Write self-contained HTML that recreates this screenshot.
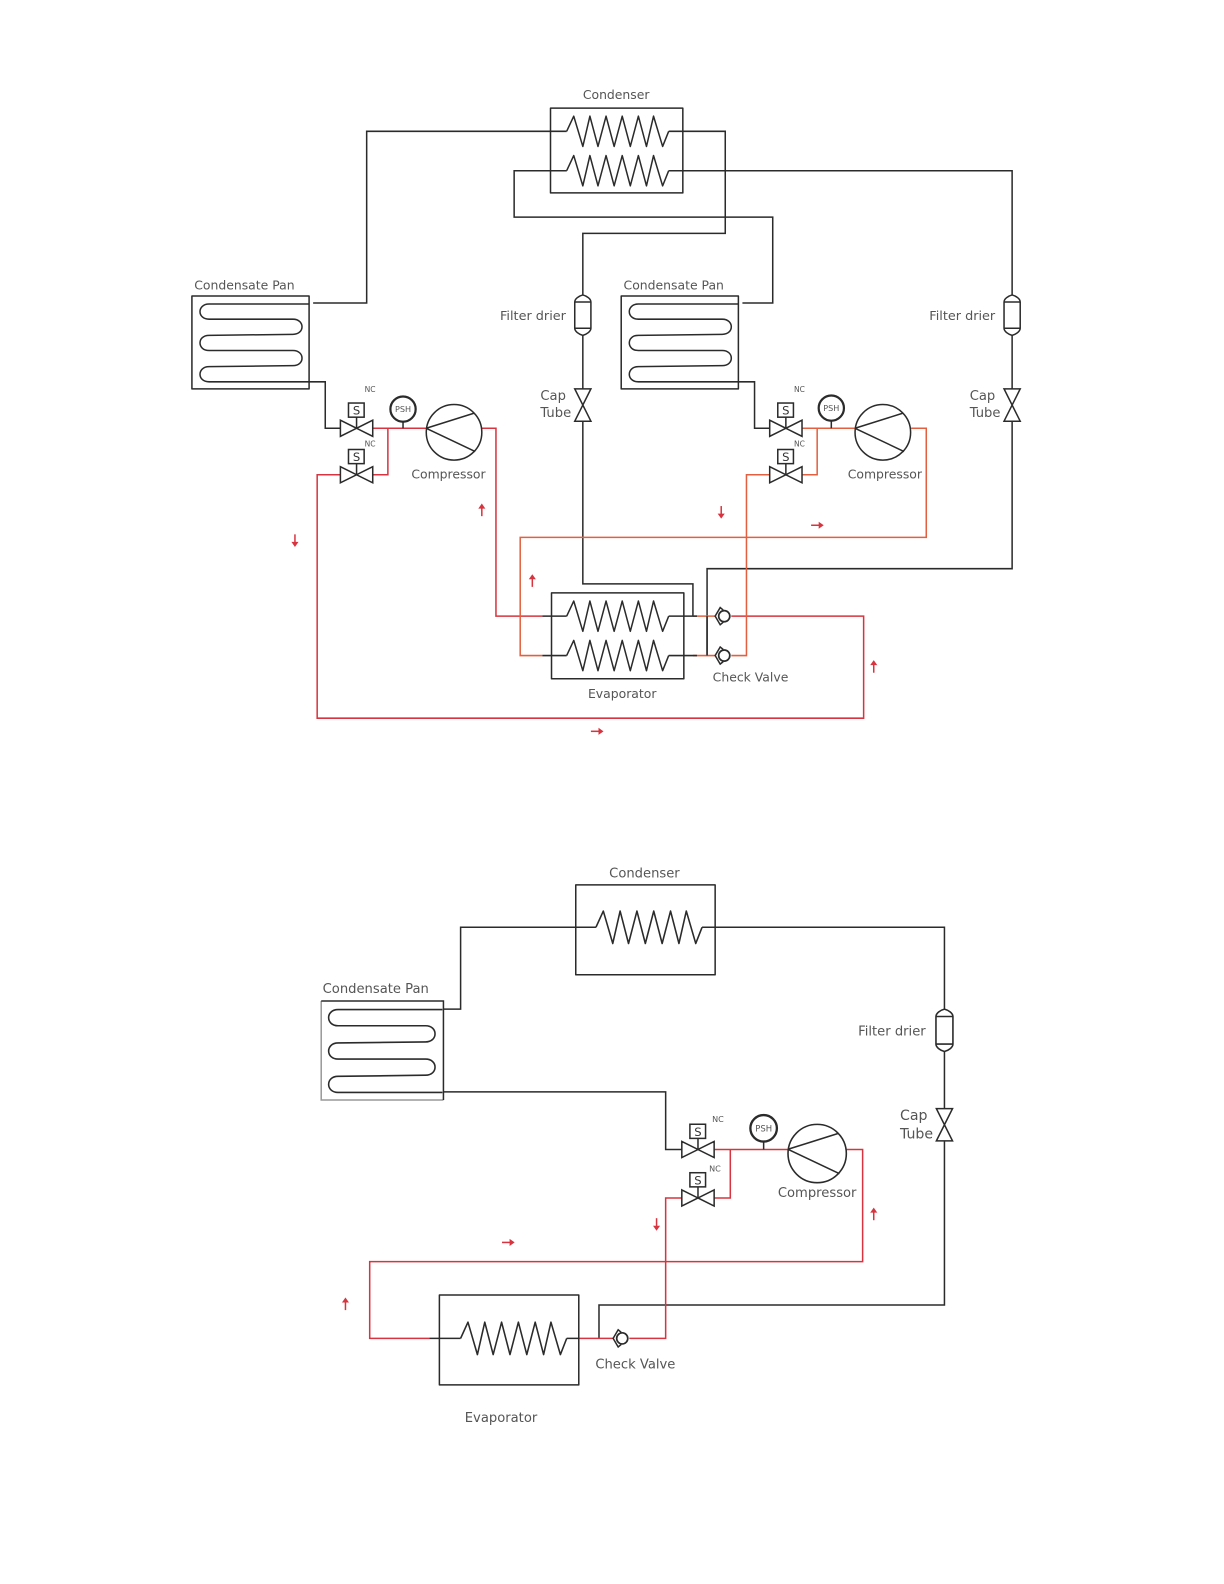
<!DOCTYPE html>
<html><head><meta charset="utf-8"><style>
html,body{margin:0;padding:0;background:#fff}
svg{display:block;filter:blur(.3px)}
text{font-family:"DejaVu Sans","Liberation Sans",sans-serif;fill:#555}
.k{fill:none;stroke:#2b2b2b;stroke-width:1.5}
.r{fill:none;stroke:#d8343f;stroke-width:1.5}
.o{fill:none;stroke:#e2603f;stroke-width:1.5}
.s{fill:none;stroke:#2b2b2b;stroke-width:1.5;stroke-linejoin:round}
.w{fill:#fff;stroke:#2b2b2b;stroke-width:1.5}
</style></head><body>
<svg width="1224" height="1584" viewBox="0 0 1211.760 1568.160" xmlns="http://www.w3.org/2000/svg">
<defs>
<g id="coil"><path class="s" d="M0 0L7-15L16 15L23-15L31 15L39-15L47 15L55-15L63 15L71-15L79 15L86-15L95 15L101 0"/></g>
<path id="serp" class="s" d="M116 8H17C5 8 5 23 17 23H100C112 23 112 38 100 38L17 39C5 39 5 54 17 54H100C112 54 112 69 100 69L17 70C5 70 5 85 17 85H116"/>
<g id="pan"><use href="#serp"/><rect class="s" x="0" y="0" width="116" height="92"/></g>
<g id="valve"><path class="w" d="M-16-8L0 0L-16 8ZM16-8L0 0L16 8Z"/><path class="k" d="M0 0V-11"/><rect class="w" x="-8" y="-25" width="15.500" height="14"/><text x="0" y="-13.500" font-size="11.500" text-anchor="middle" style="fill:#333">S</text></g>
<g id="psh"><circle cx="0" cy="0" r="12.500" fill="#fff" stroke="#2b2b2b" stroke-width="2.200"/><text x="0" y="3" font-size="8" text-anchor="middle">PSH</text></g>
<g id="comp"><circle cx="0" cy="0" r="27.500" fill="#fff" stroke="#2b2b2b" stroke-width="1.500"/><path class="k" d="M-27.500-4L20-19M-27.500-4L21 19"/></g>
<g id="drier"><path class="w" d="M0-20C4-19 8-16 8-13V13C8 16 4 19 0 20C-4 19-8 16-8 13V-13C-8-16-4-19 0-20Z"/><path class="k" d="M-8-13H8M-8 13H8"/></g>
<g id="cap"><path class="w" d="M-8-16H8L-8 16H8Z"/></g>
<g id="check"><path class="k" d="M0-6L-3-8.500L-8 0L-3 8.500L0 6" stroke-width="1.800"/><circle cx="1" cy="0" r="5.500" fill="#fff" stroke="#2b2b2b" stroke-width="1.700"/></g>
<g id="arr"><path d="M0 6V-3" fill="none" stroke="#d8343f" stroke-width="1.500"/><path d="M0-6.500L3.500-1.500H-3.500Z" fill="#d8343f"/></g>
</defs>

<!-- TOP DIAGRAM -->
<path class="k" d="M545 130H363V300H310"/>
<path class="k" d="M662 130H718V231H577V292M577 332V385M577 417V578H686V610"/>
<path class="k" d="M561 169H509V215H765V300H735"/>
<path class="k" d="M662 169H1002V292M1002 332V385M1002 417V563H700V649"/>
<path class="k" d="M731 378H747V424H762M306 378H322V424H337"/>
<rect class="s" x="545" y="107" width="131" height="84"/>
<use href="#coil" x="561" y="130"/><use href="#coil" x="561" y="169"/>
<path class="k" d="M545 130H561M545 169H561"/>
<use href="#pan" x="190" y="293"/><use href="#pan" x="615" y="293"/>

<path class="r" d="M369 424H422M384 424V470H369M337 470H314V711H855V610H724M476 424H491V610H537"/>
<path class="o" d="M794 424H848M809 424V470H794M762 470H739V649H724M902 424H917V532H515V649H537"/>
<path class="o" d="M686 610H708M686 649H708"/>
<path class="k" d="M537 610H561M537 649H561M662 610H690M662 649H690M700 610V649"/>
<rect class="s" x="546" y="587" width="131" height="85"/>
<use href="#coil" x="561" y="610"/><use href="#coil" x="561" y="649"/>
<use href="#check" x="716" y="610"/><use href="#check" x="716" y="649"/>

<use href="#valve" x="353" y="424"/><use href="#valve" x="353" y="470"/>
<use href="#valve" x="778" y="424"/><use href="#valve" x="778" y="470"/>
<path class="k" d="M399 424V417M823 424V417"/>
<use href="#psh" x="399" y="405"/><use href="#psh" x="823" y="404"/>
<use href="#comp" x="449.500" y="428"/><use href="#comp" x="874" y="428"/>
<use href="#drier" x="577" y="312"/><use href="#drier" x="1002" y="312"/>
<use href="#cap" x="577" y="401"/><use href="#cap" x="1002" y="401"/>

<g font-size="12.300">
<text x="610" y="98" text-anchor="middle">Condenser</text>
<text x="242" y="286.500" text-anchor="middle">Condensate Pan</text>
<text x="667" y="286.500" text-anchor="middle">Condensate Pan</text>
<text x="495" y="317" font-size="12.700">Filter drier</text>
<text x="920" y="317" font-size="12.700">Filter drier</text>
<text x="535" y="396" font-size="13">Cap</text><text x="535" y="413" font-size="13">Tube</text>
<text x="960" y="396" font-size="13">Cap</text><text x="960" y="413" font-size="13">Tube</text>
<text x="444" y="473.500" text-anchor="middle">Compressor</text>
<text x="876" y="473.500" text-anchor="middle">Compressor</text>
<text x="616" y="691" text-anchor="middle">Evaporator</text>
<text x="743" y="674.500" text-anchor="middle">Check Valve</text>
</g>
<g font-size="7.500">
<text x="361" y="388">NC</text><text x="361" y="442">NC</text>
<text x="786" y="388">NC</text><text x="786" y="442">NC</text>
</g>
<use href="#arr" transform="translate(292 535) rotate(180)"/>
<use href="#arr" transform="translate(477 505)"/>
<use href="#arr" transform="translate(527 575)"/>
<use href="#arr" transform="translate(714 507) rotate(180)"/>
<use href="#arr" transform="translate(809 520) rotate(90)"/>
<use href="#arr" transform="translate(865 660)"/>
<use href="#arr" transform="translate(591 724) rotate(90)"/>

<!-- BOTTOM DIAGRAM -->
<path class="k" d="M590 918H456V999H439"/>
<path class="k" d="M695 918H935V999M935 1041V1097M935 1130V1292H593V1325"/>
<path class="k" d="M439 1081H659V1138H675"/>
<rect class="s" x="570" y="876" width="138" height="89"/>
<use href="#coil" transform="translate(590 918) scale(1.040 1.070)"/>
<g transform="translate(317 991) scale(1.043 1.065)"><use href="#serp"/></g>
<path d="M318 991V1089H439" fill="none" stroke="#999" stroke-width="1.500"/>
<path class="k" d="M318 991H439V1089"/>

<path class="r" d="M707 1138H780M723 1138V1186H707M675 1186H659V1325H623M838 1138H854V1249H366V1325H425"/>
<path class="r" d="M573 1325H607"/>
<path class="k" d="M425 1325H456M561 1325H573"/>
<rect class="s" x="435" y="1282" width="138" height="89"/>
<use href="#coil" transform="translate(456 1325) scale(1.040 1.070)"/>
<use href="#check" x="615" y="1325"/>
<use href="#valve" x="691" y="1138"/><use href="#valve" x="691" y="1186"/>
<path class="k" d="M756 1138V1130"/>
<use href="#psh" transform="translate(756 1117) scale(1.050)"/>
<use href="#comp" transform="translate(809 1142) scale(1.050)"/>
<use href="#drier" transform="translate(935 1020) scale(1.050)"/>
<use href="#cap" x="935" y="1113.500"/>

<g font-size="13">
<text x="638" y="868.500" text-anchor="middle">Condenser</text>
<text x="372" y="983" text-anchor="middle">Condensate Pan</text>
<text x="883" y="1025" text-anchor="middle">Filter drier</text>
<text x="891" y="1109" font-size="14">Cap</text><text x="891" y="1127" font-size="14">Tube</text>
<text x="809" y="1185" text-anchor="middle">Compressor</text>
<text x="629" y="1355" text-anchor="middle">Check Valve</text>
<text x="496" y="1408" text-anchor="middle">Evaporator</text>
</g>
<g font-size="8">
<text x="705" y="1111">NC</text><text x="702" y="1160">NC</text>
</g>
<use href="#arr" transform="translate(650 1212) rotate(180)"/>
<use href="#arr" transform="translate(865 1202)"/>
<use href="#arr" transform="translate(503 1230) rotate(90)"/>
<use href="#arr" transform="translate(342 1291)"/>
</svg>
</body></html>
